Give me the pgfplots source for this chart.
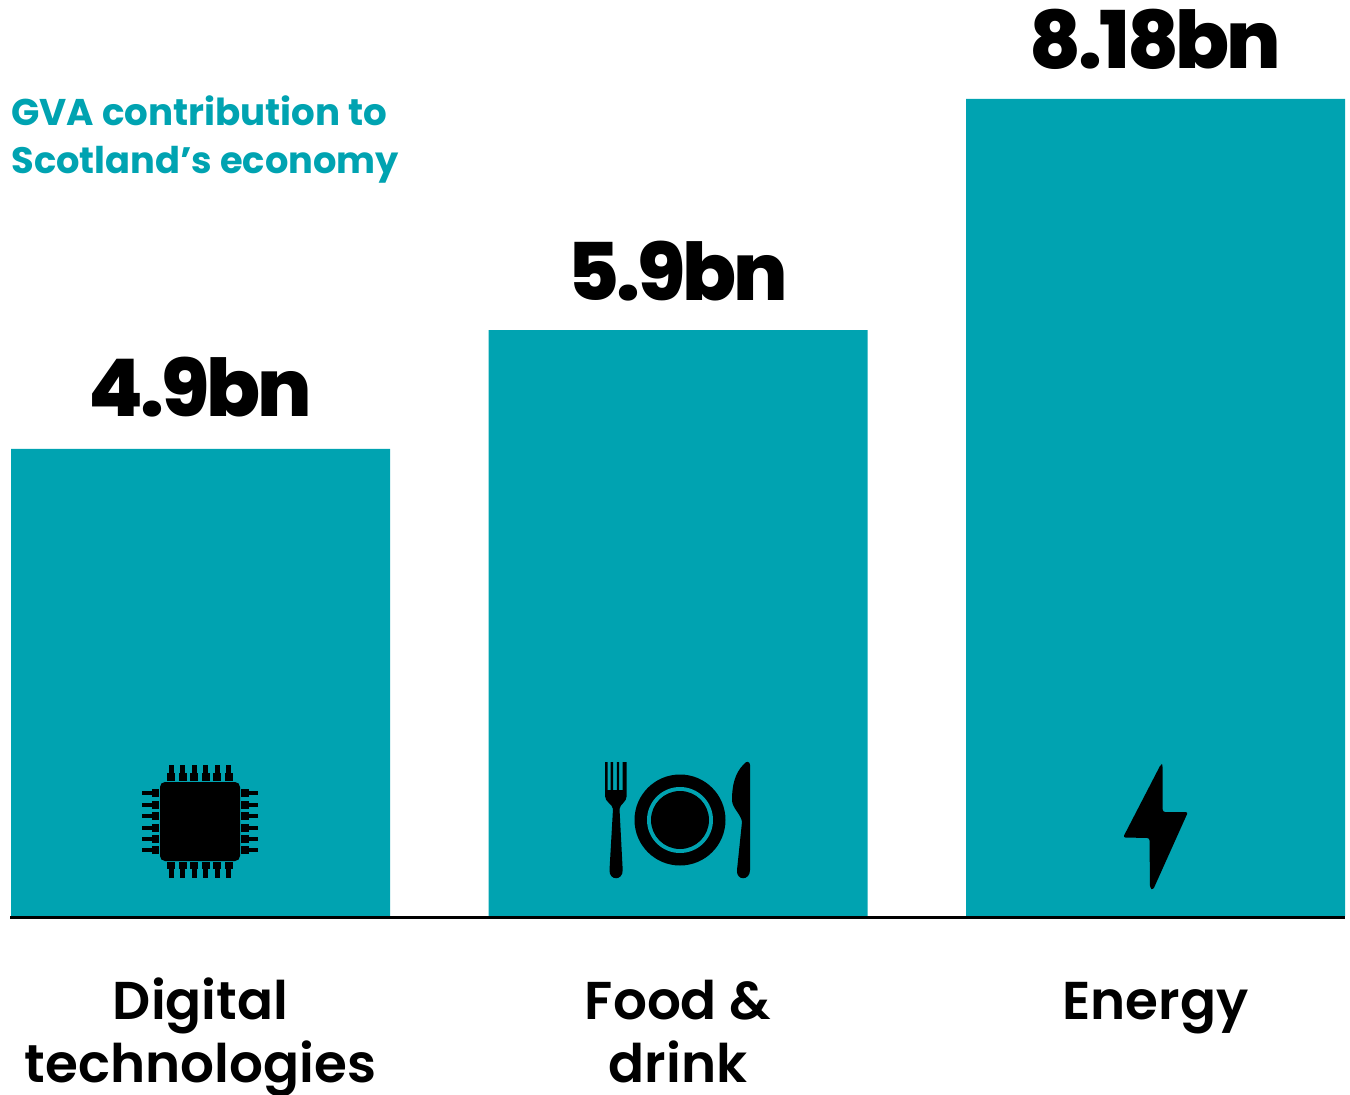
\documentclass[border=0pt]{standalone}
\usepackage{pgfplots}
\pgfplotsset{compat=1.18}
\usepackage{fontspec}
\setmainfont{Poppins}[BoldFont=* Bold]
\newfontfamily\semib{Poppins SemiBold}
\newfontfamily\xbold{Poppins ExtraBold}[LetterSpace=-4]
\definecolor{teal1}{HTML}{00A3B1}
\pgfplotstableread{
x bn
0 4.676
1 5.867
2 8.18
}\bars
\begin{document}
\begin{tikzpicture}
\path[use as bounding box] (0,0) rectangle (675pt,547pt);
\begin{axis}[
  at={(0,0)},anchor=south west,
  scale only axis,width=675pt,height=547pt,
  hide axis,clip=false,
  xmin=-0.41990,xmax=2.40733,
  ymin=-1.7822,ymax=9.1713,
  ybar,bar width=189.5pt,bar shift=0pt,
]
\addplot[fill=teal1,draw=none] table[x=x,y=bn]{\bars};
\addplot[sharp plot,black,line width=1.5pt,forget plot] coordinates {(-0.39895,-0.015) (2.39686,-0.015)};
\def\lab#1#2#3{\node[anchor=base,font=\xbold\fontsize{39.8}{39.8}\selectfont] at (axis cs:#1,#2) {#3};}
\lab{0}{5.0}{4.9bn}
\lab{1}{6.16}{5.9bn}
\lab{2}{8.49}{8.18bn}
\def\cat#1#2#3{\node[anchor=base,font=\semib\fontsize{26.6}{26.6}\selectfont] at (axis cs:#1,#2) {#3};}
\cat{0}{-1.04}{Digital}
\cat{0}{-1.67}{technologies}
\cat{1}{-1.04}{Food \&}
\cat{1}{-1.67}{drink}
\cat{2}{-1.04}{Energy}
\end{axis}
\begin{scope}[x=0.5pt,y=-0.5pt,shift={(0,547pt)}]
\node[anchor=base west,inner sep=0,text=teal1,font=\bfseries\fontsize{18.6}{18.6}\selectfont] at (11,125.5) {GVA contribution to};
\node[anchor=base west,inner sep=0,text=teal1,font=\bfseries\fontsize{18.4}{18.4}\selectfont] at (11,174) {Scotland’s economy};
% chip
\fill[black,rounded corners=2.5pt] (160,782) rectangle (240,861);
\foreach \p in {171,182.5,194,205.5,217,228.5}{
  \fill (\p-4,773) rectangle (\p+4,781);
  \fill (\p-2.5,765) rectangle (\p+2.5,774);
  \fill (\p-4,862) rectangle (\p+4,869);
  \fill (\p-2.5,868) rectangle (\p+2.5,878);
}
\foreach \p in {793,804.5,816,827.5,839,850}{
  \fill (152,\p-4) rectangle (159,\p+4);
  \fill (142,\p-2) rectangle (153,\p+2);
  \fill (241,\p-4) rectangle (249,\p+4);
  \fill (248,\p-2) rectangle (258,\p+2);
}
% plate
\fill (680,820) circle[radius=22.75pt];
\fill[teal1] (680,820) circle[radius=16.5pt];
\fill (680,820) circle[radius=14.5pt];
% fork
\fill (605,762) -- (607.7,762) -- (607.7,790) -- (610.5,790) -- (610.5,762) -- (613,762) -- (613,790) -- (616.8,790) -- (616.8,762) -- (619,762) -- (619,790) -- (622.6,790) -- (622.6,762) -- (626.7,762) -- (626.7,796) .. controls (626.7,802) and (620,804) .. (619.5,809) -- (622.7,870) .. controls (623,881) and (609,881) .. (609.5,870) -- (613,809) .. controls (612.5,804) and (605,802) .. (605,796) -- cycle;
% knife
\fill (750,765) .. controls (750,761) and (746,761) .. (744,764) .. controls (735,773) and (732,785) .. (732,800) .. controls (732,808) and (741,814) .. (742,822) -- (737,870) .. controls (736,881) and (750,881) .. (750,870) -- cycle;
% bolt
\fill[rounded corners=1.2pt] (1161,764) -- (1162.7,765) -- (1162.7,812) -- (1188,812) -- (1153,890) -- (1150,888) -- (1149.5,838) -- (1123,837.5) -- cycle;
\end{scope}
\end{tikzpicture}
\end{document}
